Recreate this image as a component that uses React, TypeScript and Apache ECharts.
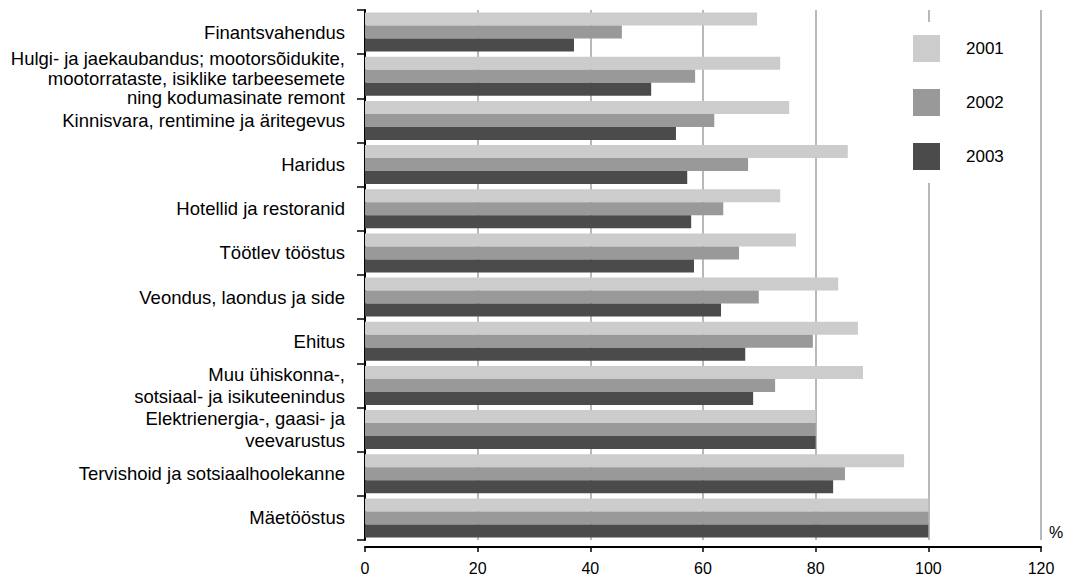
import React, { useEffect, useRef } from "react";
import * as echarts from "echarts";

const categories = [
  "Finantsvahendus",
  "Hulgi- ja jaekaubandus; mootorsõidukite,\nmootorrataste, isiklike tarbeesemete\nning kodumasinate remont",
  "Kinnisvara, rentimine ja äritegevus",
  "Haridus",
  "Hotellid ja restoranid",
  "Töötlev tööstus",
  "Veondus, laondus ja side",
  "Ehitus",
  "Muu ühiskonna-,\nsotsiaal- ja isikuteenindus",
  "Elektrienergia-, gaasi- ja\nveevarustus",
  "Tervishoid ja sotsiaalhoolekanne",
  "Mäetööstus",
];

const years = ["2001", "2002", "2003"];

const values2001 = [69.6, 73.7, 75.3, 85.7, 73.7, 76.5, 84.0, 87.5, 88.4, 80, 95.7, 100];
const values2002 = [45.6, 58.6, 62.0, 68.0, 63.6, 66.4, 69.9, 79.5, 72.8, 80, 85.2, 100];
const values2003 = [37.1, 50.8, 55.2, 57.2, 57.9, 58.4, 63.2, 67.5, 68.9, 80, 83.1, 100];

const xTicks = [0, 20, 40, 60, 80, 100, 120];

const colors = ["#cccccc", "#999999", "#4b4b4b"];

export default function App() {
  const ref = useRef<HTMLDivElement>(null);

  useEffect(() => {
    if (!ref.current) return;
    const chart = echarts.init(ref.current, null, { renderer: "svg" });
    const font = "'Liberation Sans', Arial, Helvetica, sans-serif";
    const seriesValues = [values2001, values2002, values2003];

    const labelFormatter = (v: string) => {
      const lines = v.split("\n");
      if (lines.length === 3) {
        return "{sp| }\n" + lines.map((l) => "{t|" + l + "}").join("\n");
      }
      if (lines.length === 2) {
        return lines.map((l) => "{m|" + l + "}").join("\n");
      }
      return "{s|" + v + "}";
    };

    chart.setOption({
      animation: false,
      backgroundColor: "#ffffff",
      textStyle: { fontFamily: font },
      grid: { left: 365, right: 36, top: 10, bottom: 37, containLabel: false },
      legend: {
        orient: "vertical",
        left: 903,
        top: 22,
        padding: [13, 12, 13, 10],
        backgroundColor: "#ffffff",
        itemWidth: 27,
        itemHeight: 27,
        itemGap: 27,
        icon: "rect",
        data: years,
        textStyle: { fontSize: 17, color: "#000", fontFamily: font, padding: [0, 0, 0, 21] },
      },
      xAxis: {
        type: "value",
        min: xTicks[0],
        max: xTicks[xTicks.length - 1],
        interval: 20,
        offset: 7,
        axisLine: { show: true, lineStyle: { color: "#000", width: 2 } },
        axisTick: { show: true, length: 5, lineStyle: { color: "#000", width: 1.5 } },
        axisLabel: {
          color: "#000",
          fontSize: 16,
          margin: 13,
          fontFamily: "'Liberation Sans Narrow', 'Liberation Sans', Arial, sans-serif",
        },
        splitLine: { show: true, lineStyle: { color: "#a0a0a0", width: 1.5 } },
      },
      yAxis: {
        type: "category",
        inverse: true,
        data: categories,
        offset: 6,
        axisLine: { show: true, lineStyle: { color: "#000", width: 2 } },
        axisTick: { show: true, length: 8, interval: 0, lineStyle: { color: "#000", width: 1.5 } },
        axisLabel: {
          color: "#000",
          fontSize: 18.5,
          margin: 14,
          interval: 0,
          hideOverlap: false,
          align: "right",
          fontFamily: font,
          formatter: labelFormatter,
          rich: {
            sp: { fontSize: 4, lineHeight: 4, fontFamily: font, align: "right" },
            t: { fontSize: 18.5, lineHeight: 19.5, color: "#000", fontFamily: font, align: "right" },
            m: { fontSize: 18.5, lineHeight: 22, color: "#000", fontFamily: font, align: "right" },
            s: { fontSize: 18.5, lineHeight: 19, color: "#000", fontFamily: font, align: "right" },
          },
        },
        splitLine: { show: false },
      },
      graphic: [
        {
          type: "text",
          left: 1049,
          top: 524,
          style: { text: "%", fontSize: 16, fill: "#000", fontFamily: font },
        },
      ],
      series: years.map((y, i) => ({
        name: y,
        type: "bar",
        data: seriesValues[i],
        barWidth: 13,
        barGap: "0%",
        itemStyle: { color: colors[i] },
        z: 3,
      })),
    });

    return () => chart.dispose();
  }, []);

  return <div ref={ref} style={{ width: 1077, height: 577, position: "absolute", left: 0, top: 0 }} />;
}
